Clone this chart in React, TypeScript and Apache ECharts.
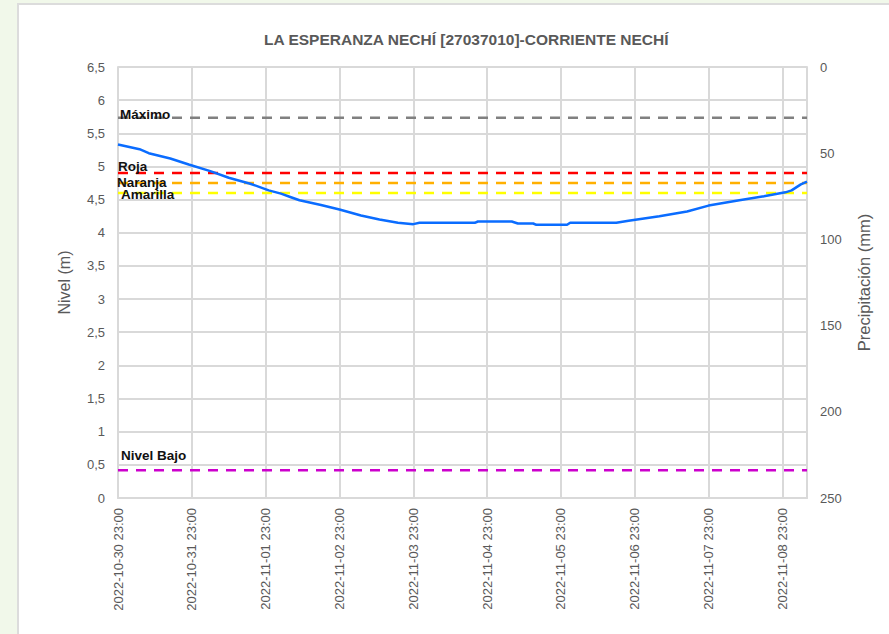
import React, { useEffect, useRef } from "react";
import * as echarts from "echarts";

const TITLE = "LA ESPERANZA NECHÍ [27037010]-CORRIENTE NECHÍ";
const dayLabels = [
  "2022-10-30 23:00",
  "2022-10-31 23:00",
  "2022-11-01 23:00",
  "2022-11-02 23:00",
  "2022-11-03 23:00",
  "2022-11-04 23:00",
  "2022-11-05 23:00",
  "2022-11-06 23:00",
  "2022-11-07 23:00",
  "2022-11-08 23:00",
];
// hours since 2022-10-30 23:00
const levelHours = [0, 7, 10, 17, 23, 30, 36, 43, 49, 53, 56, 59, 66, 72, 79, 85, 91, 96, 98, 111, 116, 117, 128, 130, 135, 136, 146, 147, 162, 166, 176, 185, 192, 202, 210, 217, 219, 222, 224];
const levelValues = [5.33, 5.26, 5.2, 5.12, 5.03, 4.93, 4.83, 4.74, 4.64, 4.59, 4.54, 4.49, 4.42, 4.35, 4.26, 4.2, 4.15, 4.13, 4.15, 4.15, 4.15, 4.17, 4.17, 4.14, 4.14, 4.12, 4.12, 4.15, 4.15, 4.18, 4.25, 4.32, 4.41, 4.49, 4.55, 4.61, 4.64, 4.73, 4.77];

const thresholdNames = ["Máximo", "Roja", "Naranja", "Amarilla", "Nivel Bajo"];
const thresholdValues = [5.735, 4.9, 4.75, 4.6, 0.42];
const thresholdColors = ["#808080", "#ff0000", "#ffb000", "#ffff00", "#cc00cc"];
const thresholdLabelOffsets = [[2, -3], [0, -7], [-1, -1], [3, 2], [3, -15]];

const precipTicks = { min: 0, max: 250, interval: 50 };
const levelAxis = { min: 0, max: 6.5, interval: 0.5 };
const hourAxis = { min: 0, max: 224, interval: 24 };

const FONT = "'Liberation Sans', Arial, sans-serif";
const GRID = "#d9d9d9";
const TXT = "#595959";

export default function App() {
  const ref = useRef<HTMLDivElement>(null);
  useEffect(() => {
    if (!ref.current) return;
    const chart = echarts.init(ref.current, undefined, { renderer: "svg" });
    const thresholdSeries = thresholdNames.map((name, i) => ({
      type: "line",
      name,
      xAxisIndex: 0,
      yAxisIndex: 0,
      symbol: "circle",
      symbolSize: 0,
      showSymbol: true,
      z: 2,
      lineStyle: { color: thresholdColors[i], width: 2.5, type: [10, 8] },
      itemStyle: { color: thresholdColors[i] },
      data: [
        {
          value: [hourAxis.min, thresholdValues[i]],
          label: {
            show: true,
            position: "right",
            distance: 0,
            offset: thresholdLabelOffsets[i],
            formatter: name,
            fontFamily: FONT,
            fontWeight: "bold",
            fontSize: 13.5,
            color: "#111111",
          },
        },
        [hourAxis.max, thresholdValues[i]],
      ],
    }));
    const option: any = {
      animation: false,
      title: {
        text: TITLE,
        left: 259,
        top: 26,
        textStyle: { fontFamily: FONT, fontWeight: "bold", fontSize: 15.5, color: TXT },
      },
      grid: { left: 118, right: 82, top: 67, bottom: 136 },
      xAxis: {
        type: "value",
        min: hourAxis.min,
        max: hourAxis.max,
        interval: hourAxis.interval,
        axisLine: { lineStyle: { color: GRID, width: 2 } },
        axisTick: { show: false },
        splitLine: { show: true, lineStyle: { color: GRID, width: 2 } },
        axisLabel: {
          rotate: 90,
          margin: 10,
          color: TXT,
          fontSize: 13,
          fontFamily: FONT,
          showMaxLabel: false,
          formatter: (v: number) => dayLabels[Math.round(v / hourAxis.interval)] ?? "",
        },
      },
      yAxis: [
        {
          type: "value",
          min: levelAxis.min,
          max: levelAxis.max,
          interval: levelAxis.interval,
          name: "Nivel (m)",
          nameLocation: "middle",
          nameGap: 46,
          nameTextStyle: { color: TXT, fontSize: 16, fontFamily: FONT },
          axisLine: { show: true, lineStyle: { color: GRID, width: 2 } },
          axisTick: { show: false },
          splitLine: { show: true, lineStyle: { color: GRID, width: 2 } },
          axisLabel: {
            color: TXT,
            fontSize: 13,
            fontFamily: FONT,
            margin: 13,
            formatter: (v: number) => String(v).replace(".", ","),
          },
        },
        {
          type: "value",
          position: "right",
          inverse: true,
          min: precipTicks.min,
          max: precipTicks.max,
          interval: precipTicks.interval,
          name: "Precipitación (mm)",
          nameLocation: "middle",
          nameGap: 48,
          nameTextStyle: { color: TXT, fontSize: 16.5, fontFamily: FONT },
          axisLine: { show: true, lineStyle: { color: GRID, width: 2 } },
          axisTick: { show: false },
          splitLine: { show: false },
          axisLabel: { color: TXT, fontSize: 13, fontFamily: FONT, margin: 13 },
        },
      ],
      series: [
        ...thresholdSeries,
        {
          type: "line",
          name: "Nivel",
          xAxisIndex: 0,
          yAxisIndex: 0,
          showSymbol: false,
          z: 5,
          lineStyle: { color: "#0a6cff", width: 2.5 },
          itemStyle: { color: "#0a6cff" },
          data: levelHours.map((h, i) => [h, levelValues[i]]),
        },
      ],
    };
    chart.setOption(option);
    return () => chart.dispose();
  }, []);
  return (
    <div style={{ position: "fixed", left: 0, top: 0, width: 889, height: 634, background: "#f1f8ea", overflow: "hidden" }}>
      <div
        style={{
          position: "absolute",
          left: 17,
          top: 3,
          width: 872,
          height: 631,
          background: "#ffffff",
          borderLeft: "2px solid #dcdcdc",
          borderTop: "2px solid #dcdcdc",
          boxSizing: "border-box",
        }}
      />
      <div ref={ref} style={{ position: "absolute", left: 0, top: 0, width: 889, height: 634 }} />
    </div>
  );
}
